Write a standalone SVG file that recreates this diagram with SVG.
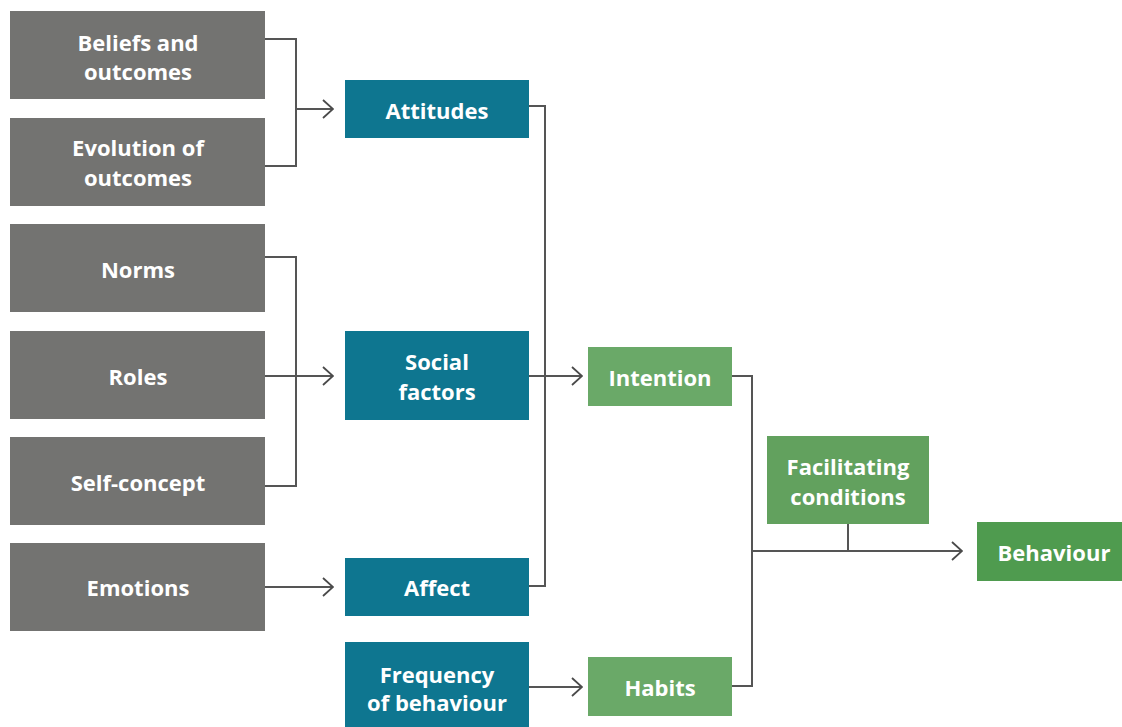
<svg xmlns="http://www.w3.org/2000/svg" width="1122" height="727" viewBox="0 0 1122 727">
<defs>
<marker id="arr" viewBox="0 0 12 20" refX="11" refY="10" markerWidth="12" markerHeight="20" markerUnits="userSpaceOnUse" orient="auto">
<path d="M1,1 L11,10 L1,19" fill="none" stroke="#4a4a4a" stroke-width="1.8"/>
</marker>
<style>
.g{fill:#737371}
.t{fill:#0e7690}
.lg{fill:#6aa968}
.fc{fill:#62a15e}
.bh{fill:#4f9b4f}
text{font-family:"Open Sans","Lato",sans-serif;font-weight:bold;font-size:22px;fill:#fff;text-anchor:middle;dominant-baseline:central}
.c{fill:none;stroke:#555;stroke-width:2}
</style>
</defs>
<rect width="1122" height="727" fill="#fff"/>
<g id="connectors">
<polyline class="c" points="265,39 296,39 296,166 265,166"/>
<line class="c" x1="296" y1="109" x2="333" y2="109" marker-end="url(#arr)"/>
<polyline class="c" points="265,257 296,257 296,486 265,486"/>
<line class="c" x1="265" y1="376" x2="333" y2="376" marker-end="url(#arr)"/>
<line class="c" x1="265" y1="587" x2="333" y2="587" marker-end="url(#arr)"/>
<polyline class="c" points="529,106 545,106 545,586 529,586"/>
<line class="c" x1="529" y1="376" x2="582" y2="376" marker-end="url(#arr)"/>
<line class="c" x1="529" y1="687" x2="582" y2="687" marker-end="url(#arr)"/>
<polyline class="c" points="732,376 752,376 752,686 732,686"/>
<line class="c" x1="752" y1="551" x2="962" y2="551" marker-end="url(#arr)"/>
<line class="c" x1="848" y1="524" x2="848" y2="551"/>
</g>
<g id="beliefs"><rect class="g" x="10" y="11" width="255" height="88"/><text x="138" y="42">Beliefs and</text><text x="138" y="71">outcomes</text></g>
<g id="evolution"><rect class="g" x="10" y="118" width="255" height="88"/><text x="138" y="147">Evolution of</text><text x="138" y="177">outcomes</text></g>
<g id="norms"><rect class="g" x="10" y="224" width="255" height="88"/><text x="138" y="269">Norms</text></g>
<g id="roles"><rect class="g" x="10" y="331" width="255" height="88"/><text x="138" y="376">Roles</text></g>
<g id="selfconcept"><rect class="g" x="10" y="437" width="255" height="88"/><text x="138" y="482">Self-concept</text></g>
<g id="emotions"><rect class="g" x="10" y="543" width="255" height="88"/><text x="138" y="587">Emotions</text></g>
<g id="attitudes"><rect class="t" x="345" y="80" width="184" height="58"/><text x="437" y="110">Attitudes</text></g>
<g id="social"><rect class="t" x="345" y="331" width="184" height="89"/><text x="437" y="361">Social</text><text x="437" y="391">factors</text></g>
<g id="affect"><rect class="t" x="345" y="558" width="184" height="58"/><text x="437" y="587">Affect</text></g>
<g id="frequency"><rect class="t" x="345" y="642" width="184" height="85"/><text x="437" y="674">Frequency</text><text x="437" y="702">of behaviour</text></g>
<g id="intention"><rect class="lg" x="588" y="347" width="144" height="59"/><text x="660" y="377">Intention</text></g>
<g id="habits"><rect class="lg" x="588" y="657" width="144" height="59"/><text x="660" y="687">Habits</text></g>
<g id="facilitating"><rect class="fc" x="767" y="436" width="162" height="88"/><text x="848" y="466">Facilitating</text><text x="848" y="496">conditions</text></g>
<g id="behaviour"><rect class="bh" x="977" y="522" width="145" height="59"/><text x="1054" y="552">Behaviour</text></g>
</svg>
